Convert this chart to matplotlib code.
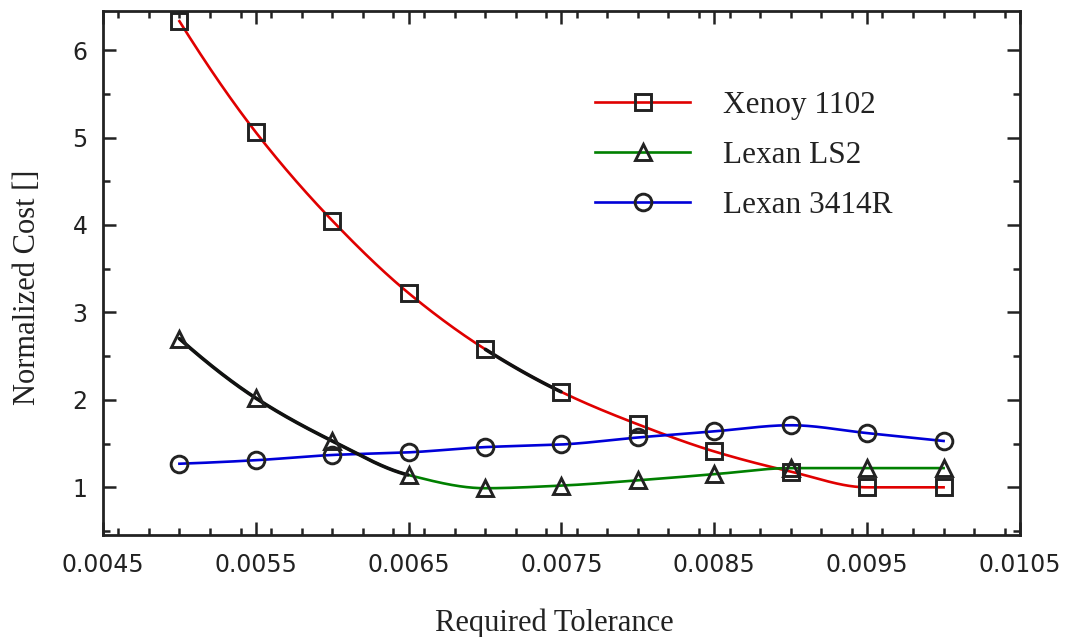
import numpy as np
import matplotlib
matplotlib.use("Agg")
import matplotlib.pyplot as plt
from matplotlib.lines import Line2D
from matplotlib.ticker import MultipleLocator, FixedLocator

# ---------------- data ----------------
tolerance = [0.0050, 0.0055, 0.0060, 0.0065, 0.0070, 0.0075,
             0.0080, 0.0085, 0.0090, 0.0095, 0.0100]
xenoy_1102 = [6.33, 5.06, 4.05, 3.22, 2.58, 2.09, 1.72, 1.41, 1.18, 1.00, 1.00]
lexan_ls2 = [2.70, 2.02, 1.53, 1.14, 0.99, 1.02, 1.08, 1.15, 1.22, 1.22, 1.22]
lexan_3414r = [1.27, 1.31, 1.37, 1.40, 1.46, 1.49, 1.57, 1.64, 1.71, 1.62, 1.53]
series_names = ["Xenoy 1102", "Lexan LS2", "Lexan 3414R"]
# index ranges of segments drawn in black (highlighted)
xenoy_black = (4, 5)
ls2_black = (0, 3)
x_major_ticks = [0.0045, 0.0055, 0.0065, 0.0075, 0.0085, 0.0095, 0.0105]
x_tick_labels = ["0.0045", "0.0055", "0.0065", "0.0075", "0.0085", "0.0095", "0.0105"]
y_major_ticks = [1, 2, 3, 4, 5, 6]


def pchip(x, y, xs):
    x = np.asarray(x, float)
    y = np.asarray(y, float)
    n = len(x)
    h = np.diff(x)
    delta = np.diff(y) / h
    d = np.zeros(n)
    for k in range(1, n - 1):
        if delta[k - 1] * delta[k] <= 0:
            d[k] = 0.0
        else:
            w1 = 2 * h[k] + h[k - 1]
            w2 = h[k] + 2 * h[k - 1]
            d[k] = (w1 + w2) / (w1 / delta[k - 1] + w2 / delta[k])

    def endpoint(h0, h1, d0, d1):
        dd = ((2 * h0 + h1) * d0 - h0 * d1) / (h0 + h1)
        if np.sign(dd) != np.sign(d0):
            dd = 0.0
        elif np.sign(d0) != np.sign(d1) and abs(dd) > abs(3 * d0):
            dd = 3 * d0
        return dd

    d[0] = endpoint(h[0], h[1], delta[0], delta[1])
    d[-1] = endpoint(h[-1], h[-2], delta[-1], delta[-2])
    xs = np.asarray(xs, float)
    idx = np.clip(np.searchsorted(x, xs) - 1, 0, n - 2)
    t = (xs - x[idx]) / h[idx]
    h00 = 2 * t**3 - 3 * t**2 + 1
    h10 = t**3 - 2 * t**2 + t
    h01 = -2 * t**3 + 3 * t**2
    h11 = t**3 - t**2
    return (h00 * y[idx] + h10 * h[idx] * d[idx]
            + h01 * y[idx + 1] + h11 * h[idx] * d[idx + 1])


plt.rcParams['font.family'] = ['DejaVu Sans']

fig = plt.figure(figsize=(10.68, 6.37), dpi=100)
W, H = 1068, 637
ax = fig.add_axes([103 / W, (H - 535) / H, 917 / W, 524.3 / H])

colors = ["#e00000", "#008000", "#0000d8"]
markers = ["s", "^", "o"]
mec = "#222222"
data = [xenoy_1102, lexan_ls2, lexan_3414r]
blacks = [xenoy_black, ls2_black, None]

xs = np.linspace(tolerance[0], tolerance[-1], 800)
for vals, col, mk, blk in zip(data, colors, markers, blacks):
    ys = pchip(tolerance, vals, xs)
    ax.plot(xs, ys, color=col, lw=1.9, zorder=2)
    if blk is not None:
        a, b = tolerance[blk[0]], tolerance[blk[1]]
        m = (xs >= a - 1e-12) & (xs <= b + 1e-12)
        ax.plot(xs[m], ys[m], color="#111111", lw=2.6, zorder=3,
                solid_capstyle="round")
    ax.plot(tolerance, vals, linestyle="none", marker=mk, markersize=12,
            mfc="none", mec=mec, mew=2.1, zorder=4)

ax.set_xlim(0.0045, 0.0105)
ax.set_ylim(0.455, 6.45)
ax.xaxis.set_major_locator(FixedLocator(x_major_ticks))
ax.set_xticklabels(x_tick_labels)
ax.xaxis.set_minor_locator(MultipleLocator(0.0002))
ax.yaxis.set_major_locator(FixedLocator(y_major_ticks))
ax.yaxis.set_minor_locator(MultipleLocator(0.5))

ax.tick_params(which="both", direction="in", top=True, right=True,
               color="#222222", labelcolor="#222222")
ax.tick_params(which="major", length=9.5, width=1.8, labelsize=17)
ax.tick_params(axis="x", which="major", pad=13)
ax.tick_params(axis="y", which="major", pad=11)
ax.tick_params(which="minor", length=5, width=1.8)
for sp in ax.spines.values():
    sp.set_linewidth(2.0)
    sp.set_color("#222222")

serif = ["Liberation Serif", "DejaVu Serif"]
ax.set_xlabel("Required Tolerance", fontsize=22, family=serif, color="#222222")
ax.set_ylabel("Normalized Cost []", fontsize=22, family=serif, color="#222222")
ax.xaxis.set_label_coords(0.492, -0.141)
ax.yaxis.set_label_coords(-0.066, 0.472)

handles = [Line2D([0], [0], color=c, lw=1.9, marker=m, markersize=12,
                  mfc="none", mec=mec, mew=2.1)
           for c, m in zip(colors, markers)]
leg = ax.legend(handles, series_names, loc="upper left",
                bbox_to_anchor=(0.5365, 0.847), frameon=False,
                prop={"family": serif, "size": 22.5}, handlelength=3.05,
                handletextpad=1.05, labelspacing=0.68, borderpad=0,
                borderaxespad=0)
for t in leg.get_texts():
    t.set_color("#222222")

fig.savefig("out.png", dpi=100)
